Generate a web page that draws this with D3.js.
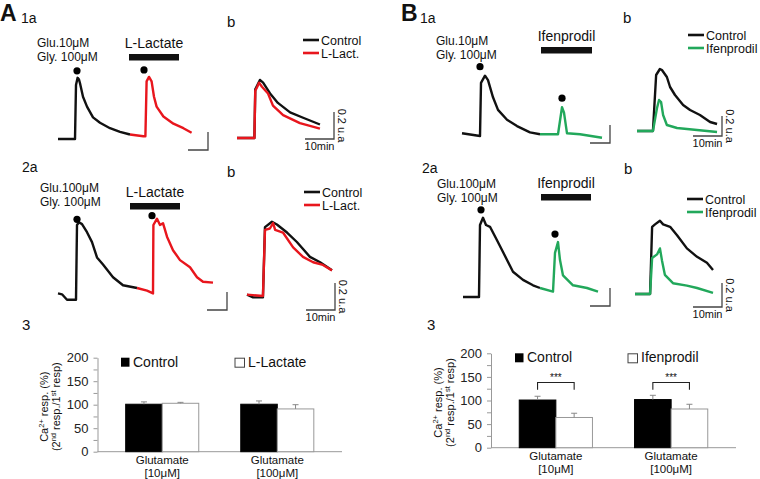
<!DOCTYPE html>
<html>
<head>
<meta charset="utf-8">
<script src="https://cdn.jsdelivr.net/npm/d3@7"></script>
<style>
  body { margin: 0; background: #fff; }
  svg { display: block; font-family: "Liberation Sans", Arial, sans-serif; }
</style>
</head>
<body>
<script>
// ---- trace data: [time (min), response (u.a.)] ----
var a1Ctrl = [[0,0],[8.5,0],[9,0.6],[9.8,0.68],[10.5,0.66],[11,0.62],[12.5,0.47],[14.5,0.36],[17.5,0.24],[21,0.18],[26,0.12],[31,0.08],[36,0.05]];
var a1Lact = [[36,0.05],[42.7,0.03],[43.7,0.03],[44.3,0.64],[45.5,0.69],[46.8,0.64],[48,0.47],[49.3,0.36],[52.7,0.25],[57.7,0.17],[62.7,0.12],[66.8,0.07]];
var a1bCtrl = [[0,0],[6,0],[6.3,0.36],[7,0.39],[7.9,0.43],[9,0.41],[11.4,0.33],[14.1,0.26],[18.3,0.19],[22.8,0.15],[28.6,0.1]];
var a1bLact = [[0,0],[6,0],[6.3,0.35],[7,0.38],[7.6,0.41],[8.6,0.38],[10.7,0.33],[12.4,0.24],[15.9,0.17],[21.7,0.11],[28.6,0.07]];

var a2Ctrl = [[0,0.04],[2,0.03],[4.5,-0.03],[7.5,-0.03],[9,-0.03],[9.5,0.8],[10.5,0.83],[12,0.81],[14.5,0.72],[17,0.61],[19.5,0.44],[22.5,0.36],[27.5,0.22],[32.5,0.13],[39.5,0.1]];
var a2Lact = [[39.5,0.1],[44.5,0.07],[47.5,0.04],[47.7,0.8],[49.5,0.87],[51,0.8],[52.5,0.82],[54.5,0.67],[57.5,0.52],[61,0.41],[66,0.33],[69.5,0.22],[72.5,0.17],[77.5,0.16]];
var a2bCtrl = [[0,0.01],[2.1,-0.01],[5.5,-0.01],[6.2,0.51],[8.6,0.55],[10.3,0.53],[13.8,0.47],[17.2,0.4],[21.7,0.29],[25.2,0.25],[29.3,0.19]];
var a2bLact = [[0,0.01],[5.5,0],[6.2,0.49],[7.9,0.5],[9,0.54],[9.7,0.49],[12.4,0.47],[15.9,0.36],[19.3,0.29],[22.8,0.25],[26.2,0.23],[29.3,0.19]];

var b1Ctrl = [[0,0.03],[9,0],[9.5,0.59],[11.5,0.67],[13,0.62],[15.5,0.43],[18,0.29],[22.5,0.18],[27.5,0.11],[34,0.04],[39,0.02]];
var b1Ifen = [[39,0.02],[48,0.02],[50,0.32],[51,0.26],[52.5,0.03],[59,0.02],[70,-0.02]];
var b1bCtrl = [[0,0],[5.5,0],[6.6,0.56],[7.9,0.62],[8.6,0.61],[10.3,0.54],[11.4,0.44],[13.1,0.36],[15.9,0.26],[18.3,0.21],[21.7,0.16],[25.2,0.09],[27.6,0.07]];
var b1bIfen = [[0,0],[5.5,0],[6.9,0.23],[7.6,0.31],[8.3,0.29],[9,0.16],[10.3,0.06],[13.8,0.03],[27.6,-0.01]];

var b2Ctrl = [[0,0],[8,0],[8.5,0.8],[10,0.88],[11.5,0.8],[13.5,0.78],[17,0.63],[20,0.5],[25,0.28],[30,0.19],[35,0.13],[38.5,0.1]];
var b2Ifen = [[38.5,0.1],[45,0.06],[46,0.49],[47.5,0.61],[48.5,0.41],[50,0.24],[55,0.13],[62,0.1],[67.5,0.06]];
var b2bCtrl = [[0,0],[5.2,0],[5.9,0.56],[6.9,0.58],[8.6,0.61],[9.7,0.58],[12.1,0.56],[14.5,0.49],[17.9,0.38],[21.4,0.31],[24.8,0.26],[26.9,0.2]];
var b2bIfen = [[0,0],[5.2,0],[5.9,0.3],[7.6,0.33],[8.6,0.38],[9.3,0.28],[10.3,0.16],[13.1,0.09],[17.9,0.07],[21.4,0.05],[26.9,0.01]];

// ---- bar data (% of 1st response) ----
var groups = ["Glutamate|[10\u03bcM]", "Glutamate|[100\u03bcM]"];
var yTicks = [0, 25, 50, 75, 100, 125, 150, 175, 200];
var aCtrl = [101, 101], aCtrlErr = [5, 7];
var aLact = [103, 91], aLactErr = [2, 9];
var bCtrl = [101, 102], bCtrlErr = [8, 9];
var bIfen = [64, 82], bIfenErr = [9, 10];

var RED = "#e8161d", GREEN = "#22a85b", BLACK = "#111";

var svg = d3.select("body").append("svg")
    .attr("width", 760)
    .attr("height", 479);

function txt(x, y, s, size, opts) {
    opts = opts || {};
    var t = svg.append("text")
        .attr("x", x).attr("y", y)
        .attr("font-size", size)
        .attr("fill", opts.fill || "#111")
        .attr("font-weight", opts.bold ? "bold" : null)
        .attr("text-anchor", opts.anchor || "start")
        .text(s);
    return t;
}

// draw one trace panel
function tracePanel(p) {
    var x = d3.scaleLinear().domain([0, 10]).range([p.x0, p.x0 + 10 * p.pxMin]);
    var y = d3.scaleLinear().domain([0, 0.2]).range([p.y0, p.y0 - 0.2 * p.pxUa]);
    var line = d3.line().x(function(d) { return x(d[0]); }).y(function(d) { return y(d[1]); });

    p.series.forEach(function(s) {
        svg.append("path")
            .attr("d", line(s.data))
            .attr("fill", "none")
            .attr("stroke", s.color)
            .attr("stroke-width", 2.4)
            .attr("stroke-linejoin", "round");
    });

    // stimulus dots
    if (p.dots) {
        p.dots.forEach(function(dd) {
            var peak = d3.max(p.series[dd.s].data, function(d) { return d[1]; });
            svg.append("circle")
                .attr("cx", x(dd.t))
                .attr("cy", y(peak) - p.dotGap)
                .attr("r", 3.6)
                .attr("fill", "#000");
        });
    }

    // drug application bar
    if (p.drug) {
        svg.append("rect")
            .attr("x", x(p.drug[0]))
            .attr("y", p.drugY)
            .attr("width", x(p.drug[1]) - x(p.drug[0]))
            .attr("height", 6.5)
            .attr("fill", "#111");
        txt((x(p.drug[0]) + x(p.drug[1])) / 2, p.drugY - 6, p.drugLabel, 14, {anchor: "middle"});
    }

    // scale bar: 10 min x 0.2 u.a.
    var cx = p.bar[0], cy = p.bar[1];
    var w = x(10) - x(0), h = y(0) - y(0.2);
    svg.append("path")
        .attr("d", "M" + (cx - w) + "," + cy + "H" + cx + "V" + (cy - h))
        .attr("fill", "none")
        .attr("stroke", "#444")
        .attr("stroke-width", 1.3);
    if (p.barText) {
        txt(cx - w / 2, cy + 11, "10min", 11, {anchor: "middle"});
        svg.append("text")
            .attr("transform", "translate(" + (cx + 4) + "," + (cy - h / 2) + ") rotate(90)")
            .attr("font-size", 11)
            .attr("text-anchor", "middle")
            .attr("fill", "#111")
            .text("0.2 u.a");
    }
}

function legend(x, y, names, colors) {
    names.forEach(function(n, i) {
        svg.append("line")
            .attr("x1", x).attr("x2", x + 16)
            .attr("y1", y + i * 13).attr("y2", y + i * 13)
            .attr("stroke", colors[i]).attr("stroke-width", 2.6);
        txt(x + 18, y + i * 13 + 4.5, n, 12.5);
    });
}

function stimLabel(x, y, glu) {
    txt(x, y, "Glu." + glu + "\u03bcM", 12);
    txt(x, y + 13.5, "Gly. 100\u03bcM", 12);
}

// ---- panel headers ----
txt(0, 21, "A", 23, {bold: true});
txt(21, 23, "1a", 14);
txt(227, 27, "b", 15);
txt(22, 172, "2a", 14);
txt(227, 177, "b", 15);
txt(22, 330, "3", 15);

txt(401, 21, "B", 23, {bold: true});
txt(420, 23, "1a", 14);
txt(623, 23, "b", 15);
txt(422, 173, "2a", 14);
txt(624, 174, "b", 15);
txt(427, 330, "3", 15);

stimLabel(37, 47, "10");
stimLabel(40, 192, "100");
stimLabel(436, 45, "10");
stimLabel(437, 188, "100");

// ---- A traces ----
tracePanel({x0: 58, y0: 139, pxMin: 2, pxUa: 90,
    series: [{data: a1Ctrl, color: BLACK}, {data: a1Lact, color: RED}],
    dots: [{t: 9.5, s: 0}, {t: 43, s: 1}], dotGap: 7,
    drug: [35.5, 60.5], drugY: 54, drugLabel: "L-Lactate",
    bar: [208, 150]});
tracePanel({x0: 237, y0: 138, pxMin: 2.9, pxUa: 135,
    series: [{data: a1bCtrl, color: BLACK}, {data: a1bLact, color: RED}],
    bar: [334, 139], barText: true});
legend(303, 40, ["Control", "L-Lact."], [BLACK, RED]);

tracePanel({x0: 58, y0: 297, pxMin: 2, pxUa: 90,
    series: [{data: a2Ctrl, color: BLACK}, {data: a2Lact, color: RED}],
    dots: [{t: 9.5, s: 0}, {t: 47, s: 1}], dotGap: 3,
    drug: [36, 61], drugY: 203, drugLabel: "L-Lactate",
    bar: [227, 310]});
tracePanel({x0: 247, y0: 296, pxMin: 2.9, pxUa: 135,
    series: [{data: a2bCtrl, color: BLACK}, {data: a2bLact, color: RED}],
    bar: [335, 310], barText: true});
legend(304, 192, ["Control", "L-Lact."], [BLACK, RED]);

// ---- B traces ----
tracePanel({x0: 462, y0: 136, pxMin: 2, pxUa: 90,
    series: [{data: b1Ctrl, color: BLACK}, {data: b1Ifen, color: GREEN}],
    dots: [{t: 9, s: 0}, {t: 50, s: 1}], dotGap: 9,
    drug: [39.5, 65], drugY: 47, drugLabel: "Ifenprodil",
    bar: [610, 143]});
tracePanel({x0: 637, y0: 131, pxMin: 2.9, pxUa: 100,
    series: [{data: b1bCtrl, color: BLACK}, {data: b1bIfen, color: GREEN}],
    bar: [722, 136], barText: true});
legend(688, 35, ["Control", "Ifenprodil"], [BLACK, GREEN]);

tracePanel({x0: 463, y0: 297, pxMin: 2, pxUa: 90,
    series: [{data: b2Ctrl, color: BLACK}, {data: b2Ifen, color: GREEN}],
    dots: [{t: 9, s: 0}, {t: 46, s: 1}], dotGap: 8,
    drug: [39, 64], drugY: 194, drugLabel: "Ifenprodil",
    bar: [610, 306]});
tracePanel({x0: 635, y0: 294, pxMin: 2.9, pxUa: 120,
    series: [{data: b2bCtrl, color: BLACK}, {data: b2bIfen, color: GREEN}],
    bar: [722, 307], barText: true});
legend(687, 199, ["Control", "Ifenprodil"], [BLACK, GREEN]);

// ---- bar charts ----
function barChart(c) {
    var y = d3.scaleLinear().domain([0, 200]).range([c.y0, c.y200]);
    var x = d3.scaleBand().domain(groups).range([c.ax, c.xEnd])
        .paddingInner(0.365).paddingOuter(0.245);
    var x1 = d3.scaleBand().domain([0, 1]).range([0, x.bandwidth()]);

    var g = svg.append("g").attr("transform", "translate(" + c.ax + ",0)");
    g.call(d3.axisLeft(y).tickValues(yTicks).tickSize(4).tickSizeOuter(0).tickPadding(5)
        .tickFormat(function(d) { return d % 50 === 0 ? d : ""; }));
    g.select(".domain").attr("stroke", "#999");
    g.selectAll(".tick line").attr("stroke", "#999");
    g.selectAll(".tick text").attr("font-size", 13).attr("fill", "#222")
        .attr("font-family", "Liberation Sans, Arial, sans-serif");

    svg.append("line")
        .attr("x1", c.ax).attr("x2", c.xEnd)
        .attr("y1", c.y0).attr("y2", c.y0)
        .attr("stroke", "#999");

    [[c.ctrl, c.ctrlErr], [c.drug, c.drugErr]].forEach(function(sr, k) {
        groups.forEach(function(gname, i) {
            var bx = x(gname) + x1(k), bw = x1.bandwidth();
            svg.append("rect")
                .attr("x", bx).attr("y", y(sr[0][i]))
                .attr("width", bw).attr("height", y(0) - y(sr[0][i]))
                .attr("fill", k === 0 ? "#000" : "#fff")
                .attr("stroke", k === 0 ? "#000" : "#999");
            var mx = bx + bw / 2, top = y(sr[0][i] + sr[1][i]);
            svg.append("path")
                .attr("d", "M" + mx + "," + y(sr[0][i]) + "V" + top + "M" + (mx - 3) + "," + top + "H" + (mx + 3))
                .attr("stroke", "#888").attr("fill", "none");
        });
    });

    groups.forEach(function(gname) {
        var parts = gname.split("|"), gx = x(gname) + x.bandwidth() / 2;
        txt(gx, c.y0 + 12.5, parts[0], 11.5, {anchor: "middle"});
        txt(gx, c.y0 + 25, parts[1], 11.5, {anchor: "middle"});
        if (c.sig) {
            var l = x(gname) + x1.bandwidth() / 2, r = l + x1.bandwidth();
            svg.append("path")
                .attr("d", "M" + l + "," + y(123) + "V" + y(138) + "H" + r + "V" + y(123))
                .attr("stroke", "#222").attr("fill", "none").attr("stroke-width", 1.1);
            txt((l + r) / 2, y(138) - 2, "***", 10, {anchor: "middle"});
        }
    });

    // legend
    svg.append("rect").attr("x", c.leg[0]).attr("y", c.y200).attr("width", 8.5).attr("height", 9).attr("fill", "#000");
    txt(c.leg[0] + 12, c.y200 + 9, "Control", 14);
    svg.append("rect").attr("x", c.leg[1]).attr("y", c.y200 + 0.5).attr("width", 9.5).attr("height", 9)
        .attr("fill", "#fff").attr("stroke", "#444");
    txt(c.leg[1] + 13, c.y200 + 9, c.drugName, 14);

    // y label (two lines)
    var mid = (c.y0 + c.y200) / 2 + 2;
    var yl = svg.append("text")
        .attr("transform", "translate(" + c.lab + "," + mid + ") rotate(-90)")
        .attr("font-size", 11).attr("text-anchor", "middle").attr("fill", "#111");
    yl.append("tspan").text("Ca");
    yl.append("tspan").attr("font-size", 7.5).attr("dy", -4).text("2+");
    yl.append("tspan").attr("dy", 4).text(" resp. (%)");
    var yl2 = svg.append("text")
        .attr("transform", "translate(" + (c.lab + 11.5) + "," + mid + ") rotate(-90)")
        .attr("font-size", 11).attr("text-anchor", "middle").attr("fill", "#111");
    yl2.append("tspan").text("(2");
    yl2.append("tspan").attr("font-size", 7.5).attr("dy", -4).text("nd");
    yl2.append("tspan").attr("dy", 4).text(" resp./1");
    yl2.append("tspan").attr("font-size", 7.5).attr("dy", -4).text("st");
    yl2.append("tspan").attr("dy", 4).text(" resp)");
}

barChart({ax: 97.5, xEnd: 342, y0: 451.7, y200: 357.7, lab: 48,
    ctrl: aCtrl, ctrlErr: aCtrlErr, drug: aLact, drugErr: aLactErr,
    leg: [121, 235], drugName: "L-Lactate", sig: false});
barChart({ax: 491, xEnd: 736, y0: 447.7, y200: 353.3, lab: 442,
    ctrl: bCtrl, ctrlErr: bCtrlErr, drug: bIfen, drugErr: bIfenErr,
    leg: [515, 628], drugName: "Ifenprodil", sig: true});
</script>
</body>
</html>
